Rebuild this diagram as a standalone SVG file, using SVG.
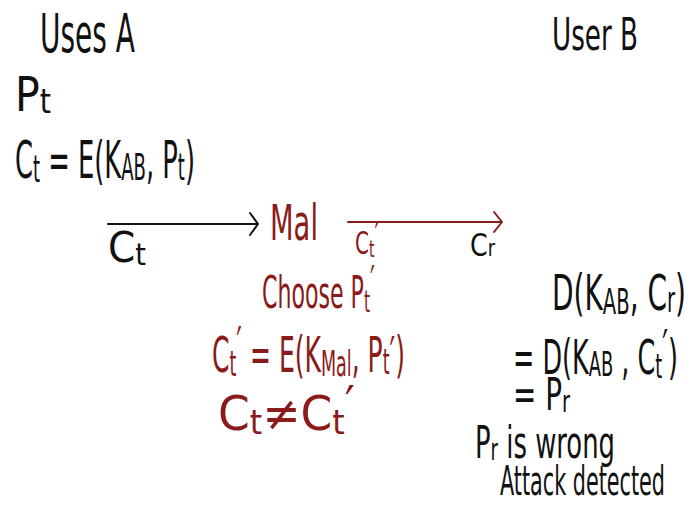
<svg xmlns="http://www.w3.org/2000/svg" width="692" height="506" viewBox="0 0 692 506">
<style>
text{font-family:"Liberation Sans Narrow","DejaVu Sans Condensed","Liberation Sans",sans-serif;fill:#111;}
.red{fill:#8b1a1a;}
.sub{font-size:0.7em;}
.ln{fill:none;stroke-width:2;stroke-linecap:round;stroke-linejoin:round;}
.blk{stroke:#111;}
.rd{stroke:#8b1a1a;}
</style>
<rect width="692" height="506" fill="#fff"/>
<g id="userA">
<text x="40" y="52" font-size="54" textLength="95" lengthAdjust="spacingAndGlyphs">Uses A</text>
<text x="15" y="111" font-size="48" textLength="36" lengthAdjust="spacingAndGlyphs">P<tspan class="sub" dy="2">t</tspan></text>
<text x="15" y="178" font-size="52" textLength="180" lengthAdjust="spacingAndGlyphs">C<tspan class="sub" dy="4">t</tspan><tspan dy="-4"> = E(K</tspan><tspan class="sub" dy="2">AB</tspan><tspan dy="-2">, P</tspan><tspan class="sub" dy="2">t</tspan><tspan dy="-2">)</tspan></text>
</g>
<g id="userB">
<text x="552" y="50" font-size="44" textLength="86" lengthAdjust="spacingAndGlyphs">User B</text>
<text x="552" y="310" font-size="50" textLength="134" lengthAdjust="spacingAndGlyphs">D(K<tspan class="sub" dy="4">AB</tspan><tspan dy="-4">, C</tspan><tspan class="sub" dy="2">r</tspan><tspan dy="-2">)</tspan></text>
<text x="513" y="374" font-size="48" textLength="165" lengthAdjust="spacingAndGlyphs">= D(K<tspan class="sub" dy="2">AB</tspan><tspan dy="-2"> , C</tspan><tspan class="sub" dy="4">t</tspan><tspan dy="-14">′</tspan><tspan dy="10">)</tspan></text>
<text x="513" y="410" font-size="44" textLength="57" lengthAdjust="spacingAndGlyphs">= P<tspan class="sub" dy="2">r</tspan></text>
<text x="475" y="458" font-size="44" textLength="140" lengthAdjust="spacingAndGlyphs">P<tspan class="sub" dy="2">r</tspan><tspan dy="-2"> is wrong</tspan></text>
<text transform="translate(500,495) scale(0.6,1)" x="0" y="0" font-size="40" textLength="275" lengthAdjust="spacingAndGlyphs">Attack detected</text>
</g>
<g id="mal">
<text class="red" x="270" y="240" font-size="50" textLength="48" lengthAdjust="spacingAndGlyphs">Mal</text>
<text class="red" x="262" y="308" font-size="44" textLength="113" lengthAdjust="spacingAndGlyphs">Choose P<tspan class="sub" dy="4">t</tspan><tspan dy="-14">′</tspan></text>
<text class="red" x="212" y="372" font-size="50" textLength="193" lengthAdjust="spacingAndGlyphs">C<tspan class="sub" dy="4">t</tspan><tspan dy="-14">′</tspan><tspan dy="10"> = E(K</tspan><tspan class="sub" dy="4">Mal</tspan><tspan dy="-4">, P</tspan><tspan class="sub" dy="2">t</tspan><tspan dy="-2">′)</tspan></text>
<text class="red" x="218" y="430" font-size="48" textLength="137" lengthAdjust="spacingAndGlyphs">C<tspan class="sub" dy="4">t</tspan><tspan dy="-4">≠C</tspan><tspan class="sub" dy="4">t</tspan><tspan dy="-14">′</tspan></text>
</g>
<g id="connectors">
<path class="ln blk" d="M108 224 H258 M250 213 L258 224 L250 235"/>
<text x="108" y="262" font-size="42" textLength="38" lengthAdjust="spacingAndGlyphs">C<tspan class="sub" dy="3">t</tspan></text>
<path class="ln rd" d="M348 222 H502 M494 212 L502 222 L494 232"/>
<text class="red" x="355" y="254" font-size="32" textLength="24" lengthAdjust="spacingAndGlyphs">C<tspan class="sub" dy="3">t</tspan><tspan dy="-12">′</tspan></text>
<text x="470" y="256" font-size="32" textLength="25" lengthAdjust="spacingAndGlyphs">C<tspan class="sub">r</tspan></text>
</g>
</svg>
